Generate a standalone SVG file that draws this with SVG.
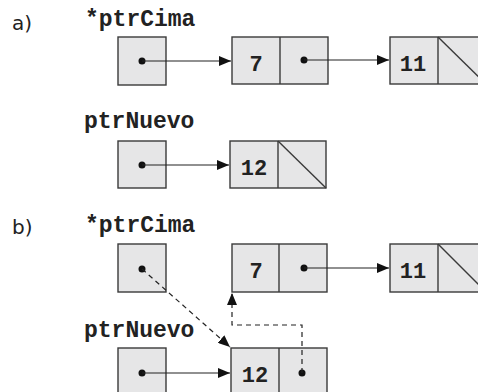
<svg xmlns="http://www.w3.org/2000/svg" width="478" height="392" viewBox="0 0 478 392">
<style>
.box{fill:#e6e6e7;stroke:#3a3a3a;stroke-width:1.4}
.div{stroke:#3a3a3a;stroke-width:1.4;fill:none}
.lbl{font-family:"Liberation Mono","Courier New",monospace;font-weight:bold;font-size:23px;fill:#222}
.num{font-family:"Liberation Mono","Courier New",monospace;font-weight:bold;font-size:22px;fill:#222;text-anchor:middle}
.tag{font-family:"DejaVu Sans",sans-serif;font-size:20px;fill:#222}
.dot{fill:#111}
.ln{stroke:#222;stroke-width:1.2;fill:none}
.dash{stroke:#222;stroke-width:1.2;fill:none;stroke-dasharray:5 4}
</style>
<defs>
<marker id="ah" markerUnits="userSpaceOnUse" markerWidth="13" markerHeight="10" refX="12" refY="5" orient="auto">
<path d="M0,0 L12,5 L0,10 Z" fill="#111"/>
</marker>
</defs>
<text class="tag" x="12" y="30">a)</text>
<text class="tag" x="12" y="234">b)</text>
<text class="lbl" x="85" y="26">*ptrCima</text>
<text class="lbl" x="84" y="128">ptrNuevo</text>
<text class="lbl" x="85" y="232">*ptrCima</text>
<text class="lbl" x="84" y="337">ptrNuevo</text>

<g id="a_cima">
<rect class="box" x="118" y="37" width="48" height="48"/>
<circle class="dot" cx="142" cy="61" r="3.5"/>
</g>
<g id="a_n7">
<rect class="box" x="232" y="37" width="96" height="47"/>
<line class="div" x1="280" y1="37" x2="280" y2="84"/>
<text class="num" x="256" y="71">7</text>
<circle class="dot" cx="304" cy="60" r="3.5"/>
</g>
<g id="a_n11">
<rect class="box" x="390" y="37" width="96" height="47"/>
<line class="div" x1="438" y1="37" x2="438" y2="84"/>
<line class="div" x1="438" y1="37" x2="486" y2="84"/>
<text class="num" x="413" y="71">11</text>
</g>
<g id="a_nuevo">
<rect class="box" x="118" y="141" width="48" height="47"/>
<circle class="dot" cx="142" cy="165" r="3.5"/>
</g>
<g id="a_n12">
<rect class="box" x="230" y="141" width="96" height="47"/>
<line class="div" x1="278" y1="141" x2="278" y2="188"/>
<line class="div" x1="278" y1="141" x2="326" y2="188"/>
<text class="num" x="254" y="175">12</text>
</g>

<g id="b_cima">
<rect class="box" x="118" y="244" width="48" height="48"/>
<circle class="dot" cx="142" cy="269" r="3.5"/>
</g>
<g id="b_n7">
<rect class="box" x="232" y="244" width="95" height="48"/>
<line class="div" x1="279" y1="244" x2="279" y2="292"/>
<text class="num" x="256" y="278">7</text>
<circle class="dot" cx="304" cy="268" r="3.5"/>
</g>
<g id="b_n11">
<rect class="box" x="390" y="244" width="96" height="48"/>
<line class="div" x1="438" y1="244" x2="438" y2="292"/>
<line class="div" x1="438" y1="244" x2="486" y2="292"/>
<text class="num" x="413" y="278">11</text>
</g>
<g id="b_nuevo">
<rect class="box" x="118" y="348" width="48" height="48"/>
<circle class="dot" cx="142" cy="373" r="3.5"/>
</g>
<g id="b_n12">
<rect class="box" x="231" y="348" width="96" height="48"/>
<line class="div" x1="279" y1="348" x2="279" y2="396"/>
<text class="num" x="255" y="382">12</text>
<circle class="dot" cx="302" cy="373" r="3.5"/>
</g>

<g id="connectors">
<line class="ln" x1="142" y1="61" x2="231" y2="61" marker-end="url(#ah)"/>
<line class="ln" x1="304" y1="60" x2="389" y2="60" marker-end="url(#ah)"/>
<line class="ln" x1="142" y1="165" x2="229" y2="165" marker-end="url(#ah)"/>
<line class="ln" x1="304" y1="268" x2="389" y2="268" marker-end="url(#ah)"/>
<line class="ln" x1="142" y1="373" x2="230" y2="373" marker-end="url(#ah)"/>
<line class="dash" x1="142" y1="269" x2="230" y2="347" marker-end="url(#ah)"/>
<polyline class="dash" points="302,373 302,325 232,325 232,293" marker-end="url(#ah)"/>
</g>
</svg>
